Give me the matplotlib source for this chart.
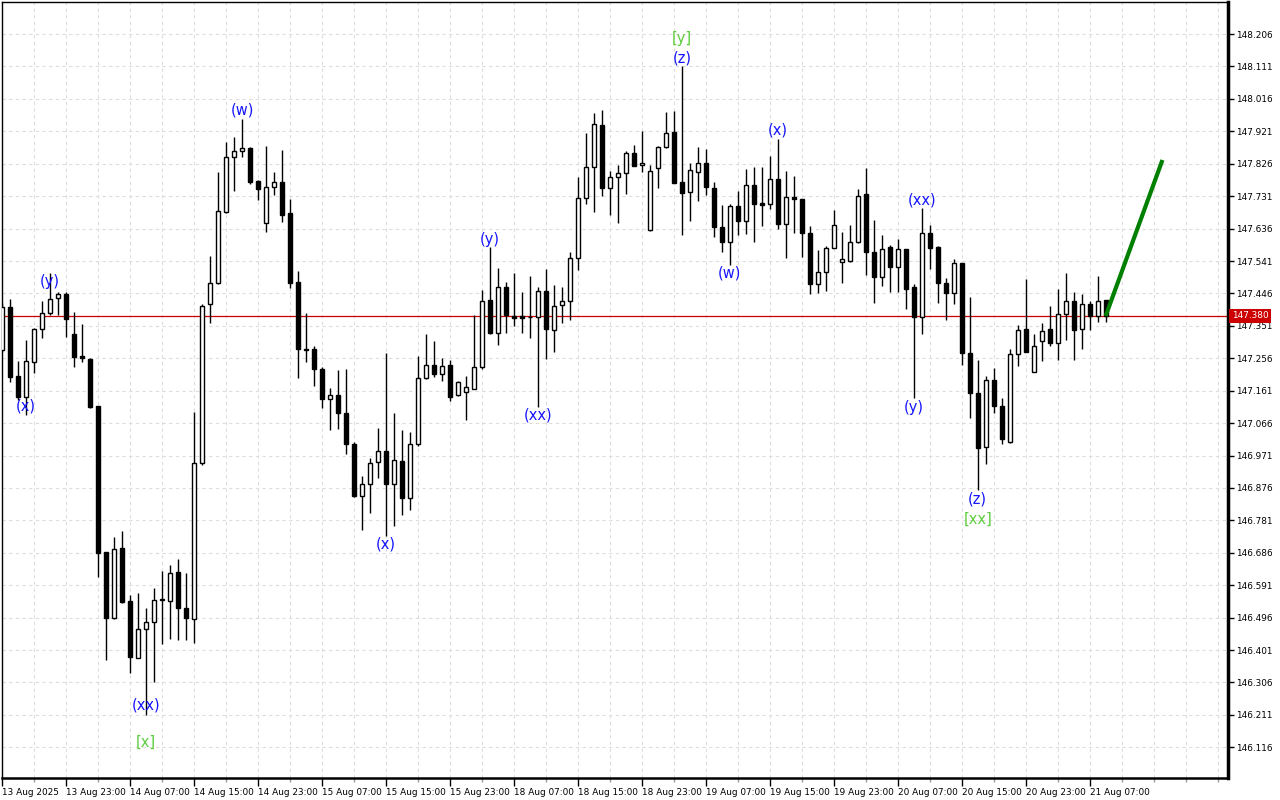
import matplotlib
matplotlib.use("Agg")
import matplotlib.pyplot as plt
import matplotlib.transforms as mtransforms
from matplotlib.ticker import FixedLocator, MultipleLocator

# hourly candles, 13 Aug 15:00 .. 21 Aug 09:00  (open, high, low, close)
opens = [147.280, 147.405, 147.203, 147.142, 147.244, 147.341, 147.388, 147.432, 147.443, 147.326,
         147.262, 147.253, 147.116, 146.687, 146.494, 146.699, 146.544, 146.379, 146.464, 146.482,
         146.549, 146.544, 146.629, 146.523, 146.492, 146.948, 147.415, 147.476, 147.685, 147.845,
         147.864, 147.871, 147.775, 147.653, 147.757, 147.772, 147.681, 147.479, 147.283, 147.282,
         147.224, 147.136, 147.148, 147.095, 147.004, 146.853, 146.889, 146.951, 146.984, 146.887,
         146.955, 146.847, 147.004, 147.197, 147.236, 147.209, 147.236, 147.147, 147.156, 147.167,
         147.229, 147.427, 147.331, 147.464, 147.381, 147.380, 147.378, 147.376, 147.453, 147.339,
         147.412, 147.424, 147.549, 147.725, 147.817, 147.939, 147.754, 147.786, 147.798, 147.857,
         147.821, 147.632, 147.813, 147.874, 147.920, 147.773, 147.744, 147.803, 147.827, 147.756,
         147.641, 147.598, 147.702, 147.659, 147.764, 147.710, 147.707, 147.780, 147.649, 147.728,
         147.723, 147.622, 147.473, 147.510, 147.578, 147.539, 147.541, 147.598, 147.737, 147.567,
         147.493, 147.582, 147.524, 147.575, 147.464, 147.376, 147.622, 147.583, 147.476, 147.446,
         147.534, 147.270, 147.153, 146.995, 147.192, 147.116, 147.012, 147.268, 147.341, 147.217,
         147.307, 147.342, 147.302, 147.385, 147.424, 147.341, 147.415, 147.381, 147.427]
highs = [147.418, 147.429, 147.248, 147.309, 147.344, 147.423, 147.506, 147.451, 147.451, 147.391,
         147.356, 147.256, 147.116, 146.688, 146.733, 146.750, 146.562, 146.569, 146.523, 146.582,
         146.632, 146.650, 146.667, 146.626, 147.099, 147.415, 147.556, 147.801, 147.889, 147.904,
         147.956, 147.874, 147.778, 147.878, 147.801, 147.866, 147.722, 147.512, 147.388, 147.293,
         147.231, 147.168, 147.222, 147.224, 147.011, 146.911, 146.963, 147.051, 147.270, 147.096,
         147.046, 147.041, 147.263, 147.327, 147.307, 147.256, 147.251, 147.189, 147.205, 147.383,
         147.456, 147.583, 147.520, 147.480, 147.505, 147.449, 147.497, 147.466, 147.517, 147.471,
         147.464, 147.568, 147.788, 147.915, 147.976, 147.984, 147.806, 147.822, 147.863, 147.881,
         147.922, 147.822, 147.879, 147.979, 147.982, 148.111, 147.827, 147.874, 147.870, 147.773,
         147.705, 147.708, 147.746, 147.811, 147.817, 147.817, 147.849, 147.899, 147.806, 147.790,
         147.723, 147.644, 147.573, 147.585, 147.690, 147.627, 147.647, 147.752, 147.813, 147.661,
         147.617, 147.588, 147.605, 147.575, 147.474, 147.695, 147.647, 147.586, 147.490, 147.546,
         147.534, 147.436, 147.251, 147.205, 147.227, 147.139, 147.283, 147.353, 147.488, 147.327,
         147.360, 147.410, 147.459, 147.507, 147.451, 147.444, 147.424, 147.497, 147.427]
lows = [147.274, 147.187, 147.134, 147.090, 147.212, 147.316, 147.383, 147.383, 147.317, 147.231,
        147.246, 147.109, 146.616, 146.372, 146.491, 146.539, 146.333, 146.379, 146.210, 146.308,
        146.420, 146.432, 146.430, 146.430, 146.422, 146.943, 147.360, 147.473, 147.683, 147.747,
        147.847, 147.766, 147.720, 147.627, 147.734, 147.656, 147.463, 147.197, 147.246, 147.176,
        147.109, 147.046, 147.048, 146.975, 146.850, 146.753, 146.802, 146.906, 146.735, 146.765,
        146.797, 146.811, 147.000, 147.194, 147.200, 147.190, 147.132, 147.145, 147.075, 147.165,
        147.224, 147.327, 147.295, 147.331, 147.350, 147.331, 147.316, 147.114, 147.253, 147.275,
        147.360, 147.368, 147.515, 147.708, 147.685, 147.732, 147.676, 147.653, 147.737, 147.820,
        147.803, 147.630, 147.756, 147.873, 147.771, 147.617, 147.658, 147.718, 147.734, 147.612,
        147.568, 147.529, 147.617, 147.619, 147.598, 147.644, 147.693, 147.634, 147.549, 147.624,
        147.554, 147.443, 147.448, 147.454, 147.578, 147.476, 147.539, 147.593, 147.500, 147.419,
        147.469, 147.451, 147.451, 147.400, 147.139, 147.326, 147.518, 147.419, 147.368, 147.415,
        147.236, 147.082, 146.870, 146.945, 147.095, 147.005, 147.007, 147.234, 147.275, 147.217,
        147.249, 147.292, 147.251, 147.309, 147.251, 147.283, 147.339, 147.363, 147.363]
closes = [147.405, 147.200, 147.142, 147.248, 147.341, 147.388, 147.429, 147.443, 147.370, 147.261,
          147.258, 147.114, 146.686, 146.494, 146.696, 146.542, 146.381, 146.464, 146.482, 146.549,
          146.550, 146.626, 146.523, 146.494, 146.948, 147.410, 147.477, 147.688, 147.845, 147.864,
          147.871, 147.773, 147.751, 147.759, 147.772, 147.676, 147.477, 147.282, 147.279, 147.224,
          147.136, 147.148, 147.095, 147.004, 146.852, 146.889, 146.948, 146.984, 146.889, 146.958,
          146.847, 147.004, 147.197, 147.236, 147.210, 147.233, 147.143, 147.185, 147.171, 147.229,
          147.424, 147.331, 147.464, 147.383, 147.375, 147.375, 147.378, 147.453, 147.341, 147.410,
          147.424, 147.549, 147.725, 147.816, 147.943, 147.754, 147.787, 147.798, 147.857, 147.820,
          147.827, 147.805, 147.874, 147.915, 147.771, 147.741, 147.808, 147.827, 147.757, 147.642,
          147.598, 147.702, 147.659, 147.764, 147.708, 147.706, 147.780, 147.649, 147.728, 147.722,
          147.622, 147.473, 147.510, 147.578, 147.646, 147.546, 147.598, 147.732, 147.567, 147.493,
          147.575, 147.523, 147.575, 147.459, 147.376, 147.622, 147.580, 147.476, 147.446, 147.534,
          147.270, 147.153, 146.994, 147.192, 147.116, 147.020, 147.268, 147.339, 147.275, 147.292,
          147.337, 147.300, 147.386, 147.424, 147.339, 147.415, 147.381, 147.424, 147.380]

time_labels = ["13 Aug 2025", "13 Aug 23:00", "14 Aug 07:00", "14 Aug 15:00", "14 Aug 23:00",
               "15 Aug 07:00", "15 Aug 15:00", "15 Aug 23:00", "18 Aug 07:00", "18 Aug 15:00",
               "18 Aug 23:00", "19 Aug 07:00", "19 Aug 15:00", "19 Aug 23:00", "20 Aug 07:00",
               "20 Aug 15:00", "20 Aug 23:00", "21 Aug 07:00"]
price_ticks = [148.206, 148.111, 148.016, 147.921, 147.826, 147.731, 147.636, 147.541, 147.446,
               147.351, 147.256, 147.161, 147.066, 146.971, 146.876, 146.781, 146.686, 146.591,
               146.496, 146.401, 146.306, 146.211, 146.116]
last_price = 147.380

# wave marks: text, bar index, price ; square-bracket marks are the higher degree (green)
wave_text = ["(y)", "(x)", "(w)", "(xx)", "[x]", "(x)", "(y)", "(xx)", "[y]", "(z)",
             "(w)", "(x)", "(xx)", "(y)", "(z)", "[xx]"]
wave_bar = [6, 3, 30, 18, 18, 48, 61, 67, 85, 85, 91, 97, 115, 114, 122, 122]
wave_price = [147.482, 147.116, 147.984, 146.240, 146.131, 146.712, 147.605, 147.090,
              148.192, 148.136, 147.506, 147.925, 147.720, 147.113, 146.843, 146.785]

# forecast arrow: from last bar to target
fc_bar = [138, 145.1]
fc_price = [147.380, 147.837]

fig = plt.figure(figsize=(12.8, 8), dpi=100)
ax = fig.add_axes([2 / 1280, 22 / 800, 1226 / 1280, 776 / 800])

n = len(opens)
idx = list(range(n))

ax.vlines(idx, lows, highs, color="black", linewidth=1, zorder=3)
bottoms = [min(o, c) for o, c in zip(opens, closes)]
heights = [abs(c - o) for o, c in zip(opens, closes)]
colors = ["white" if c >= o else "black" for o, c in zip(opens, closes)]
ax.bar(idx, heights, bottom=bottoms, width=0.5, color=colors, edgecolor="black",
       linewidth=1, zorder=4)

ax.axhline(last_price, color="#cc0000", linewidth=0.9, zorder=2)
ax.plot(fc_bar, fc_price, color="#008000", linewidth=3, solid_capstyle="butt", zorder=5)

for t, b, p in zip(wave_text, wave_bar, wave_price):
    c = "#5ccc3c" if t.startswith("[") else "#1414ff"
    ax.text(b, p, t, color=c, fontsize=10.5, ha="center", va="center", zorder=6)

ax.set_xlim(-0.02, 153.3)
ax.set_ylim(146.026, 148.300)

# axes look
ax.yaxis.tick_right()
ax.set_yticks(price_ticks)
ax.set_yticklabels([f"{v:.3f}" for v in price_ticks], fontsize=6.4)
ax.tick_params(axis="y", direction="out", length=4, width=1, pad=2)

ax.xaxis.set_major_locator(FixedLocator(list(range(0, 8 * len(time_labels), 8))))
ax.set_xticklabels(time_labels, fontsize=6.4)
for lbl in ax.get_xticklabels():
    lbl.set_horizontalalignment("left")
ax.xaxis.set_minor_locator(MultipleLocator(4))
ax.tick_params(axis="x", which="major", direction="out", length=6, width=1, pad=1)
ax.tick_params(axis="x", which="minor", direction="out", length=3, width=1, color="#999999")

ax.grid(True, which="both", axis="x", color="#dddddd", linestyle=(0, (3, 3)), linewidth=0.8)
ax.grid(True, which="major", axis="y", color="#dddddd", linestyle=(0, (3, 3)), linewidth=0.8)
ax.set_axisbelow(True)

for side in ["top", "left"]:
    ax.spines[side].set_linewidth(1)
ax.spines["right"].set_linewidth(2.5)
ax.spines["bottom"].set_linewidth(1.8)

# price tag on right axis
trans = mtransforms.blended_transform_factory(ax.transAxes, ax.transData)
ax.text(1.003, last_price, f"{last_price:.3f}", transform=trans, fontsize=6.4,
        color="white", va="center", ha="left",
        bbox=dict(boxstyle="square,pad=0.25", facecolor="#cc0000", edgecolor="none"),
        zorder=10, clip_on=False)

fig.savefig("out.png", dpi=100)
